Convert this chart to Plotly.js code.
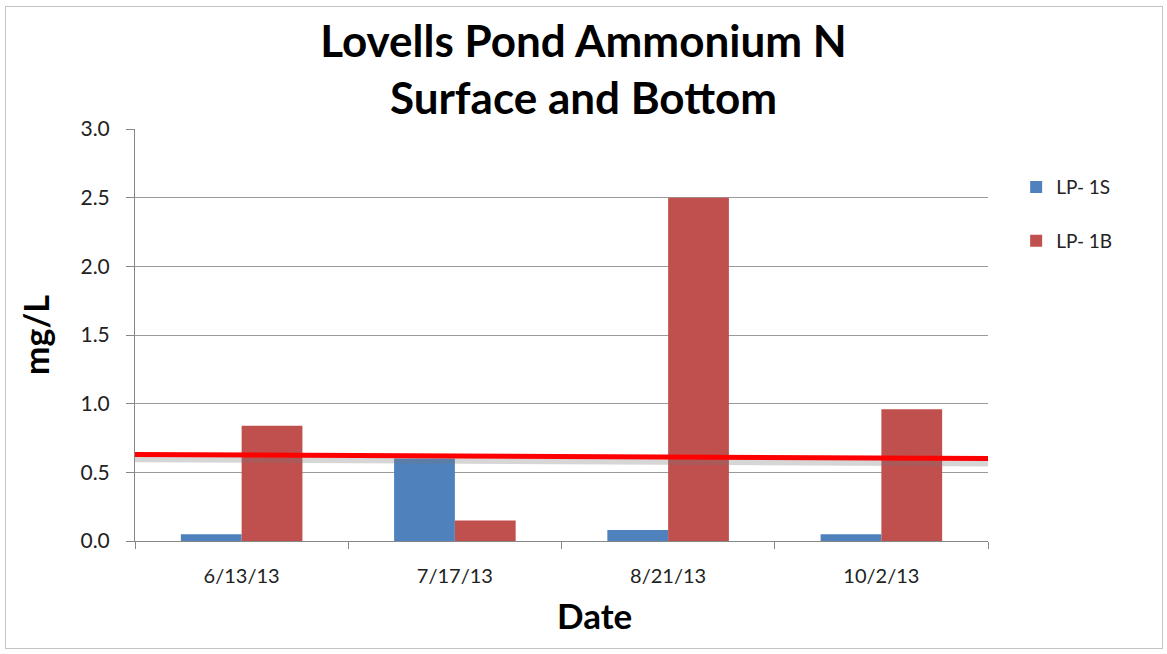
<!DOCTYPE html>
<html>
<head>
<meta charset="utf-8">
<script src="https://cdn.plot.ly/plotly-3.0.1.min.js"></script>
<style>
html,body{margin:0;padding:0;background:#fff;}
#wrap{position:relative;width:1167px;height:654px;}
#chart{width:1167px;height:654px;}
#frame{position:absolute;left:5px;top:6px;width:1156px;height:641px;border:1px solid #c4c4c4;pointer-events:none;}
</style>
</head>
<body>
<div id="wrap"><div id="chart"></div><div id="frame"></div></div>
<script>
const categories = ["6/13/13", "7/17/13", "8/21/13", "10/2/13"];
const surfaceValues = [0.05, 0.60, 0.08, 0.05];
const bottomValues = [0.84, 0.15, 2.50, 0.96];
const seriesNames = ["LP- 1S", "LP- 1B"];
const yTickValues = [0, 0.5, 1.0, 1.5, 2.0, 2.5, 3.0];
const yTickLabels = ["0.0", "0.5", "1.0", "1.5", "2.0", "2.5", "3.0"];
const refLineY = [0.63, 0.60];

const font = "Lato, 'Open Sans', sans-serif";

const traces = [
  {type: "bar", x: categories, y: surfaceValues, name: seriesNames[0],
   marker: {color: "#4F81BD"}, legendgroup: "a", hoverinfo: "x+y"},
  {type: "bar", x: categories, y: bottomValues, name: seriesNames[1],
   marker: {color: "#C0504D"}, legendgroup: "b", hoverinfo: "x+y"}
];

const layout = {
  width: 1167, height: 654,
  margin: {l: 135, r: 179, t: 129, b: 113},
  paper_bgcolor: "#fff", plot_bgcolor: "#fff",
  barmode: "group", bargap: 0.43, bargroupgap: 0,
  title: {text: "<b>Lovells Pond Ammonium N<br>Surface and Bottom</b>",
          font: {family: font, size: 44, color: "#000"},
          x: 0.5, xanchor: "center", yref: "container", y: 1 - 57/654, yanchor: "middle"},
  xaxis: {type: "category", tickson: "boundaries", ticks: "outside", ticklen: 7,
          tickcolor: "#868686", showline: true, linecolor: "#868686", linewidth: 1,
          showgrid: false, ticklabelstandoff: 17,
          tickfont: {family: font, size: 20, color: "#222"}},
  yaxis: {range: [0, 3.0], tickvals: yTickValues, ticktext: yTickLabels,
          ticks: "outside", ticklen: 8, tickcolor: "#868686",
          showline: true, linecolor: "#868686", linewidth: 1,
          showgrid: true, gridcolor: "#9a9a9a", gridwidth: 1, zeroline: false,
          ticklabelstandoff: 12,
          tickfont: {family: font, size: 21, color: "#222"},
          title: {text: "<b>mg/L</b>", font: {family: font, size: 34, color: "#000"}, standoff: 20}},
  annotations: [
    {text: "<b>Date</b>", xref: "paper", yref: "paper", x: (594 - 135) / 853, y: (541 - 615) / 412,
     xanchor: "center", yanchor: "middle", showarrow: false,
     font: {family: font, size: 35, color: "#000"}}
  ],
  showlegend: true,
  legend: {x: 1.033, xanchor: "left", y: 0.905, yanchor: "top",
           font: {family: font, size: 19, color: "#222"},
           tracegroupgap: 26, bgcolor: "rgba(0,0,0,0)"},
  shapes: [
    {type: "line", xref: "x domain", yref: "y", x0: 0, x1: 1,
     y0: refLineY[0] - 0.035, y1: refLineY[1] - 0.035,
     line: {color: "rgba(120,120,120,0.3)", width: 6}, layer: "above"},
    {type: "line", xref: "x domain", yref: "y", x0: 0, x1: 1,
     y0: refLineY[0], y1: refLineY[1],
     line: {color: "#FF0000", width: 5}, layer: "above"}
  ]
};

Plotly.newPlot("chart", traces, layout, {displayModeBar: false, staticPlot: true});
</script>
</body>
</html>
